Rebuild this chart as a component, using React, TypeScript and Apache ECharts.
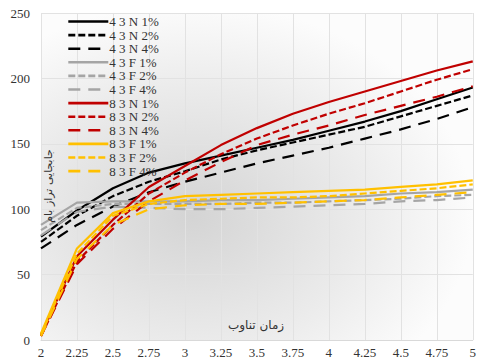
import React, { useEffect, useRef } from "react";
import * as echarts from "echarts";

const xValues = [2, 2.25, 2.5, 2.75, 3, 3.25, 3.5, 3.75, 4, 4.25, 4.5, 4.75, 5];

const n43_1 = [79, 99, 116, 128, 135, 141, 147, 153, 160, 167, 175, 184, 193];
const n43_2 = [75, 95, 110, 121, 129, 138, 145, 151, 157, 163, 171, 179, 187];
const n43_4 = [70, 88, 102, 113, 121, 128, 135, 141, 147, 154, 161, 169, 178];
const f43_1 = [88, 105, 106, 106, 106, 107, 107, 108, 109, 110, 112, 113, 115];
const f43_2 = [84, 101, 104, 104, 104, 104, 105, 105, 106, 107, 108, 110, 111];
const f43_4 = [80, 98, 102, 101, 100, 100, 101, 102, 103, 104, 106, 107, 109];
const n83_1 = [4, 64, 92, 117, 133, 149, 162, 173, 182, 190, 198, 206, 213];
const n83_2 = [3, 60, 88, 112, 128, 142, 154, 164, 173, 181, 190, 199, 207];
const n83_4 = [3, 58, 85, 106, 122, 136, 149, 157, 164, 172, 179, 186, 194];
const f83_1 = [5, 70, 97, 106, 110, 111, 112, 113, 114, 115, 117, 119, 122];
const f83_2 = [4, 66, 95, 104, 107, 108, 109, 109, 110, 112, 114, 116, 119];
const f83_4 = [3, 62, 88, 100, 103, 104, 104, 105, 106, 107, 109, 111, 113];

const seriesNames = [
  "4 3 N 1%", "4 3 N 2%", "4 3 N 4%",
  "4 3 F 1%", "4 3 F 2%", "4 3 F 4%",
  "8 3 N 1%", "8 3 N 2%", "8 3 N 4%",
  "8 3 F 1%", "8 3 F 2%", "8 3 F 4%",
];
const seriesData = [n43_1, n43_2, n43_4, f43_1, f43_2, f43_4, n83_1, n83_2, n83_4, f83_1, f83_2, f83_4];
const groupColors = ["#000000", "#a5a5a5", "#c00000", "#ffc000"];
const dashTypes: any[] = ["solid", [7, 3], [12, 8]];

const yAxisTitle = "جابجایی تراز بام";
const xAxisTitle = "زمان تناوب";

export default function App() {
  const ref = useRef<HTMLDivElement>(null);
  useEffect(() => {
    document.body.style.margin = "0";
    const chart = echarts.init(ref.current!, null, { renderer: "svg" });
    const series = seriesNames.map((name, i) => ({
      name,
      type: "line",
      data: xValues.map((x, j) => [x, seriesData[i][j]]),
      symbol: "none",
      smooth: false,
      lineStyle: {
        color: groupColors[Math.floor(i / 3)],
        width: 2.2,
        type: dashTypes[i % 3],
      },
      itemStyle: { color: groupColors[Math.floor(i / 3)] },
    }));
    chart.setOption({
      animation: false,
      backgroundColor: "#ffffff",
      grid: {
        left: 41,
        right: 2,
        top: 13,
        bottom: 22,
        show: true,
        borderWidth: 0,
        backgroundColor: new echarts.graphic.RadialGradient(0.35, 0.62, 0.65, [
          { offset: 0, color: "#d4d4d4" },
          { offset: 0.6, color: "#ebebeb" },
          { offset: 1, color: "#fcfcfc" },
        ]),
      },
      legend: {
        orient: "vertical",
        left: 67,
        top: 15,
        itemWidth: 40,
        itemHeight: 12,
        itemGap: 0.6,
        padding: 0,
        data: seriesNames,
        itemStyle: { opacity: 0 },
        lineStyle: { width: 2.6 },
        textStyle: {
          fontFamily: "Liberation Serif, serif",
          fontSize: 13,
          color: "#333",
          padding: [0, 0, 0, -4],
          lineHeight: 12,
        },
      },
      xAxis: {
        type: "value",
        min: 2,
        max: 5,
        interval: 0.25,
        axisLine: { show: true, lineStyle: { color: "#d9d9d9", width: 1 } },
        axisTick: { show: false },
        axisLabel: {
          fontFamily: "Liberation Serif, serif",
          fontSize: 13,
          color: "#333",
          margin: 6,
        },
        splitLine: { show: true, lineStyle: { color: "#e2e2e2", width: 1 } },
      },
      yAxis: {
        type: "value",
        min: 0,
        max: 250,
        interval: 50,
        axisLine: { show: false },
        axisTick: { show: false },
        axisLabel: {
          fontFamily: "Liberation Serif, serif",
          fontSize: 13,
          color: "#333",
          margin: 11,
        },
        splitLine: { show: true, lineStyle: { color: "#e2e2e2", width: 1 } },
      },
      graphic: [
        {
          type: "text",
          x: 48,
          y: 186,
          rotation: Math.PI / 2,
          style: {
            text: yAxisTitle,
            fontFamily: "DejaVu Sans, sans-serif",
            fontSize: 11,
            fill: "#333",
            textAlign: "center",
            textVerticalAlign: "middle",
          },
          z: 10,
        },
        {
          type: "text",
          x: 256,
          y: 325,
          style: {
            text: xAxisTitle,
            fontFamily: "DejaVu Sans, sans-serif",
            fontSize: 12,
            fill: "#333",
            textAlign: "center",
            textVerticalAlign: "middle",
          },
          z: 10,
        },
      ],
      series,
    });
    return () => chart.dispose();
  }, []);
  return <div ref={ref} style={{ width: 479, height: 362 }} />;
}
